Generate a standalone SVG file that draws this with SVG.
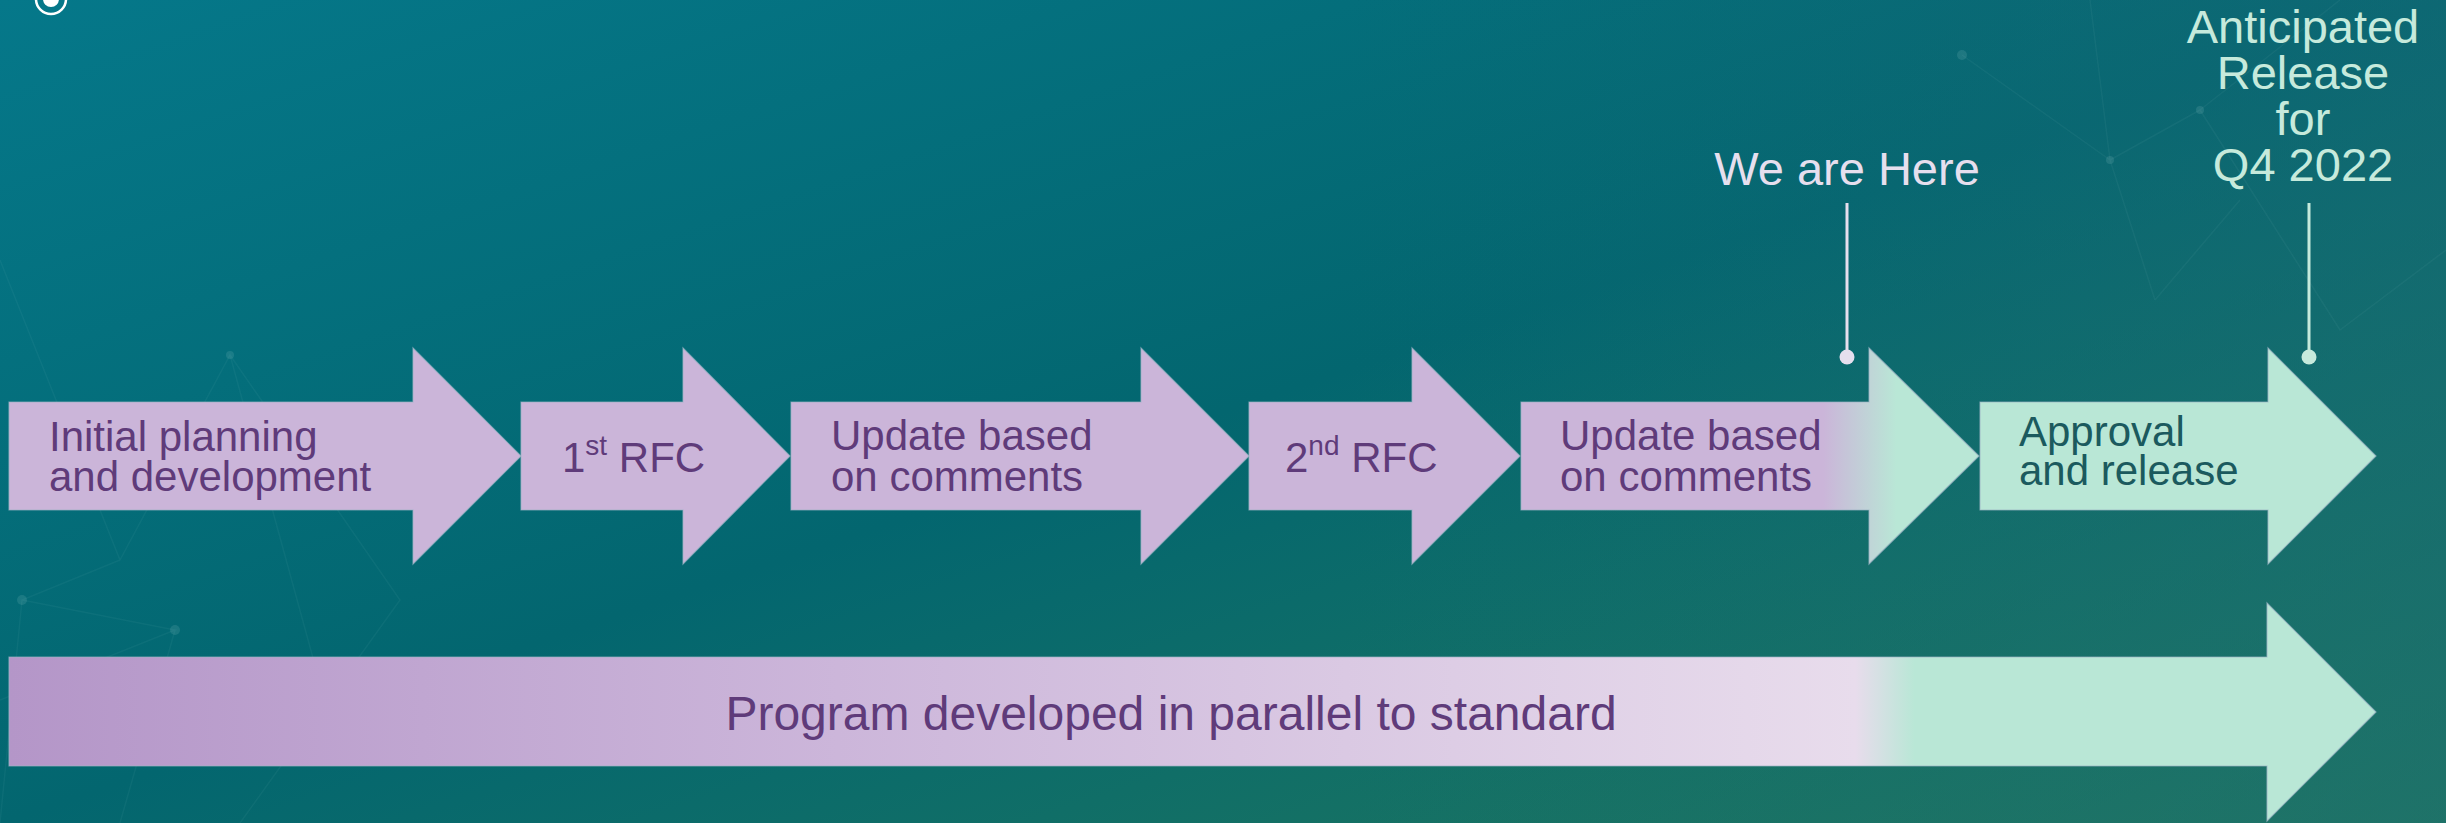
<svg xmlns="http://www.w3.org/2000/svg" width="2446" height="823" viewBox="0 0 2446 823">
  <defs>
    <linearGradient id="bg" x1="0" y1="0" x2="1" y2="1">
      <stop offset="0" stop-color="#05788a"/>
      <stop offset="0.5" stop-color="#03666f"/>
      <stop offset="1" stop-color="#22795c"/>
    </linearGradient>
    <linearGradient id="bgR" x1="0" y1="0" x2="1" y2="0">
      <stop offset="0.55" stop-color="#1a6a78" stop-opacity="0"/>
      <stop offset="1" stop-color="#1a6a78" stop-opacity="0.45"/>
    </linearGradient>
    <linearGradient id="g5" gradientUnits="userSpaceOnUse" x1="1521" y1="0" x2="1979" y2="0">
      <stop offset="0" stop-color="#cbb5d9"/>
      <stop offset="0.66" stop-color="#cbb5d9"/>
      <stop offset="0.82" stop-color="#b9e7d6"/>
      <stop offset="1" stop-color="#b9e7d6"/>
    </linearGradient>
    <linearGradient id="gb" gradientUnits="userSpaceOnUse" x1="9" y1="0" x2="2376" y2="0">
      <stop offset="0" stop-color="#b496c8"/>
      <stop offset="0.35" stop-color="#ccb6da"/>
      <stop offset="0.78" stop-color="#e8dcec"/>
      <stop offset="0.805" stop-color="#b9e7d6"/>
      <stop offset="1" stop-color="#b9e7d6"/>
    </linearGradient>
    <style>
      .arr { stroke: #9db4c4; stroke-width: 1.2; stroke-opacity: 0.7; }
      .lav { fill: #cbb5d9; }
      .mint { fill: #b9e7d6; }
      .t { font-family: "Liberation Sans", Arial, sans-serif; font-size: 42px; fill: #5f3b7a; }
      .tb { font-family: "Liberation Sans", Arial, sans-serif; font-size: 48px; fill: #5f3b7a; }
      .ta { font-family: "Liberation Sans", Arial, sans-serif; font-size: 42px; fill: #1b5a5e; }
      .lbl { font-family: "Liberation Sans", Arial, sans-serif; font-size: 47px; text-anchor: middle; }
      .net { stroke: #8fc7c9; stroke-opacity: 0.07; stroke-width: 1.5; fill: none; }
      .nd { fill: #9fd0d0; fill-opacity: 0.15; }
    </style>
  </defs>

  <g id="background">
    <rect x="0" y="0" width="2446" height="823" fill="url(#bg)"/>
    <rect x="0" y="0" width="2446" height="823" fill="url(#bgR)"/>
    <path class="net" d="M1962 55 L2110 160 L2090 0 M2110 160 L2200 110 M2110 160 L2155 300 M2200 110 L2340 0 M2200 110 L2340 330 L2446 250 M2155 300 L2240 200"/>
    <circle class="nd" cx="1962" cy="55" r="5"/>
    <circle class="nd" cx="2110" cy="160" r="4"/>
    <circle class="nd" cx="2200" cy="110" r="4"/>
    <path class="net" d="M0 260 L120 560 L230 355 L330 720 M22 600 L175 630 L0 700 M120 560 L22 600 L0 823 M175 630 L120 823 M230 355 L400 600 L240 823"/>
    <circle class="nd" cx="22" cy="600" r="5"/>
    <circle class="nd" cx="175" cy="630" r="5"/>
    <circle class="nd" cx="230" cy="355" r="4"/>
  </g>

  <g id="icon">
    <circle cx="51" cy="-1" r="15" fill="none" stroke="#ffffff" stroke-width="2.5"/>
    <circle cx="51" cy="-1" r="8" fill="#ffffff"/>
  </g>

  <g id="step1">
    <path class="arr lav" d="M9 402 H413 V348 L521 456 L413 564 V510 H9 Z"/>
    <text class="t" x="49" y="451">Initial planning</text>
    <text class="t" x="49" y="491">and development</text>
  </g>
  <g id="step2">
    <path class="arr lav" d="M521 402 H683 V348 L790 456 L683 564 V510 H521 Z"/>
    <text class="t" x="562" y="472">1<tspan font-size="28" dy="-17">st</tspan><tspan dy="17"> RFC</tspan></text>
  </g>
  <g id="step3">
    <path class="arr lav" d="M791 402 H1141 V348 L1249 456 L1141 564 V510 H791 Z"/>
    <text class="t" x="831" y="450">Update based</text>
    <text class="t" x="831" y="491">on comments</text>
  </g>
  <g id="step4">
    <path class="arr lav" d="M1249 402 H1412 V348 L1520 456 L1412 564 V510 H1249 Z"/>
    <text class="t" x="1285" y="472">2<tspan font-size="28" dy="-17">nd</tspan><tspan dy="17"> RFC</tspan></text>
  </g>
  <g id="step5">
    <path class="arr" fill="url(#g5)" d="M1521 402 H1869 V348 L1979 456 L1869 564 V510 H1521 Z"/>
    <text class="t" x="1560" y="450">Update based</text>
    <text class="t" x="1560" y="491">on comments</text>
  </g>
  <g id="step6">
    <path class="arr mint" d="M1980 402 H2268 V348 L2376 456 L2268 564 V510 H1980 Z"/>
    <text class="ta" x="2019" y="446">Approval</text>
    <text class="ta" x="2019" y="485">and release</text>
  </g>

  <g id="program">
    <path class="arr" fill="url(#gb)" d="M9 657 H2267 V603 L2376 712 L2267 821 V766 H9 Z"/>
    <text class="tb" x="1171" y="730" text-anchor="middle">Program developed in parallel to standard</text>
  </g>

  <g id="marker-here">
    <text class="lbl" x="1847" y="185" fill="#e6dfee">We are Here</text>
  </g>
  <g id="marker-release">
    <text class="lbl" x="2303" y="43" fill="#c6eadc">Anticipated</text>
    <text class="lbl" x="2303" y="89" fill="#c6eadc">Release</text>
    <text class="lbl" x="2303" y="135" fill="#c6eadc">for</text>
    <text class="lbl" x="2303" y="181" fill="#c6eadc">Q4 2022</text>
  </g>

  <g id="connectors">
    <line x1="1847" y1="203" x2="1847" y2="357" stroke="#e6dfee" stroke-width="3"/>
    <circle cx="1847" cy="357" r="7.5" fill="#e6dfee"/>
    <line x1="2309" y1="203" x2="2309" y2="357" stroke="#c6eadc" stroke-width="3"/>
    <circle cx="2309" cy="357" r="7.5" fill="#c6eadc"/>
  </g>
</svg>
